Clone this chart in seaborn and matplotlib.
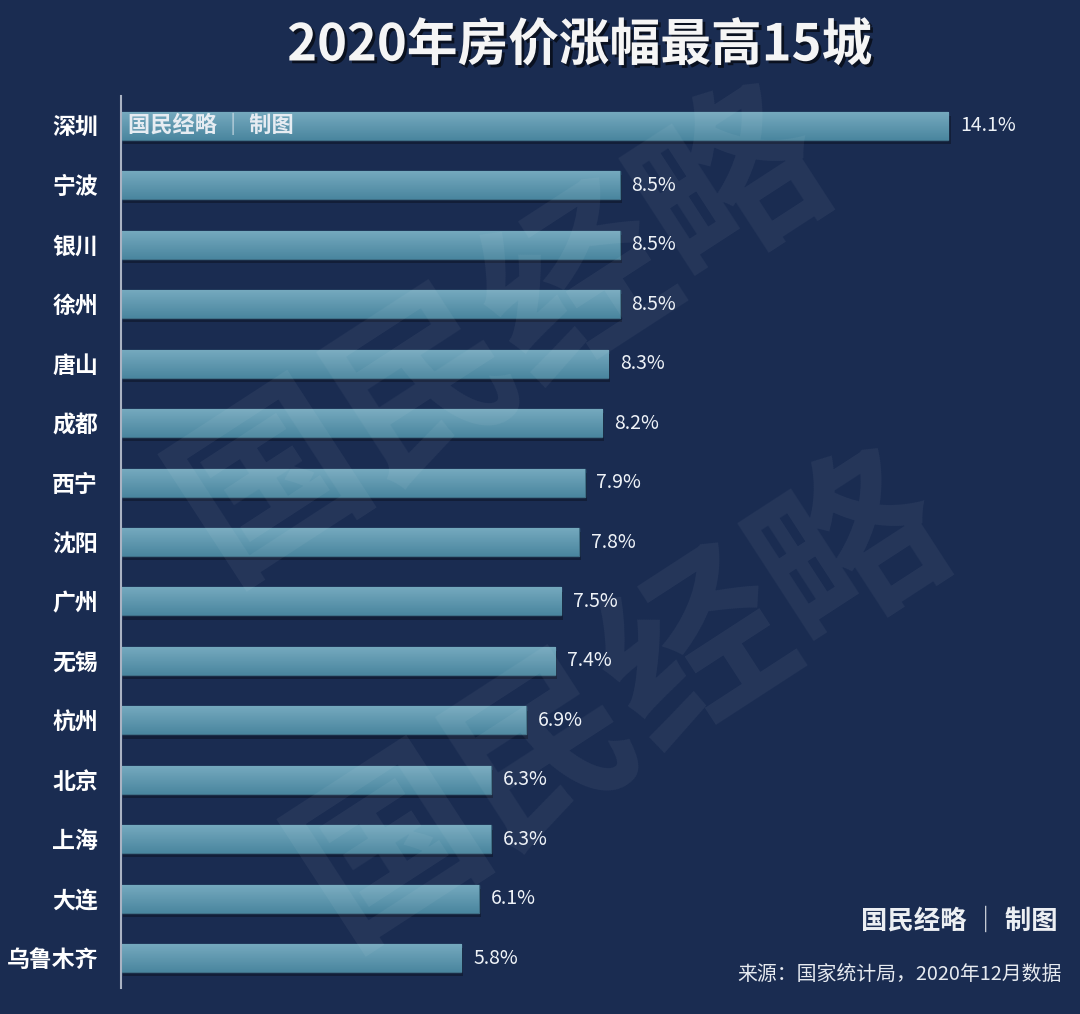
import numpy as np
import pandas as pd
import matplotlib
matplotlib.use('Agg')
import matplotlib.pyplot as plt
import matplotlib.patheffects as pe
import seaborn as sns

# data
cities = ['深圳', '宁波', '银川', '徐州', '唐山', '成都', '西宁', '沈阳',
          '广州', '无锡', '杭州', '北京', '上海', '大连', '乌鲁木齐']
growth = [14.1, 8.5, 8.5, 8.5, 8.3, 8.2, 7.9, 7.8, 7.5, 7.4, 6.9, 6.3, 6.3, 6.1, 5.8]
title = '2020年房价涨幅最高15城'
source = '来源：国家统计局，2020年12月数据'
brand = '国民经略 │ 制图'

df = pd.DataFrame({'city': cities, 'growth': growth})

sns.set_style('white')
plt.rcParams['font.family'] = ['Noto Sans CJK SC', 'DejaVu Sans']

bg = '#1a2c51'
fig = plt.figure(figsize=(10.8, 10.14), dpi=100, facecolor=bg)
ax = fig.add_axes([121 / 1080, 1 - 988 / 1014, (1060 - 121) / 1080, (988 - 96) / 1014])
ax.set_facecolor(bg)

# big faint watermarks
for x, y in [(0.465, 0.67), (0.575, 0.31)]:
    fig.text(x, y, '国民经略', fontsize=132, fontweight='bold', color='white',
             alpha=0.055, rotation=33, ha='center', va='center', zorder=0)

sns.barplot(data=df, x='growth', y='city', orient='h', ax=ax, width=0.47,
            color='#5c96ad', edgecolor='#3f6f86', linewidth=1, saturation=1)

# gradient fill + soft shadow on each bar
grad = np.linspace(0, 1, 64).reshape(-1, 1)
cmap = matplotlib.colors.LinearSegmentedColormap.from_list('bar', ['#75a9be', '#4a869f'])
for p in ax.patches:
    p.set_path_effects([pe.SimplePatchShadow(offset=(1.5, -3), shadow_rgbFace='black', alpha=0.3),
                        pe.Normal()])
    x0, y0 = p.get_x(), p.get_y()
    w, h = p.get_width(), p.get_height()
    im = ax.imshow(grad, cmap=cmap, aspect='auto', extent=(x0, x0 + w, y0 + h, y0),
                   zorder=p.get_zorder() + 0.1)
    im.set_clip_path(p)

ax.set_xlim(0, 16.0)
ax.set_ylim(14.5, -0.5)

for i, v in enumerate(growth):
    ax.text(v + 0.2, i, f'{v}%', va='center', ha='left', fontsize=14,
            color='#eef2f7')

ax.set_xlabel('')
ax.set_ylabel('')
ax.set_xticks([])
ax.tick_params(axis='y', length=0, pad=16.5, labelsize=16.5, labelcolor='white')
for lbl in ax.get_yticklabels():
    lbl.set_fontweight('bold')
for s in ['top', 'right', 'bottom']:
    ax.spines[s].set_visible(False)
ax.spines['left'].set_color('#aab3c3')
ax.spines['left'].set_linewidth(1.5)

# small brand mark inside first bar
ax.text(0.12, 0, brand, va='center', ha='left', fontsize=16, color='#e6ecf2',
        fontweight='bold', zorder=10)

fig.text(580 / 1080, 1 - 46 / 1014, title, ha='center', va='center', fontsize=36.5,
         fontweight='bold', color='#f5f5f5',
         path_effects=[pe.withSimplePatchShadow(offset=(2, -2), shadow_rgbFace='black', alpha=0.6)])
fig.text(1058 / 1080, 1 - 921 / 1014, brand, ha='right', va='center', fontsize=19,
         fontweight='bold', color='#eceff3')
fig.text(1062 / 1080, 1 - 974 / 1014, source, ha='right', va='center', fontsize=14.3,
         color='#e6eaf0')

fig.savefig('out.png', dpi=100, facecolor=bg)
